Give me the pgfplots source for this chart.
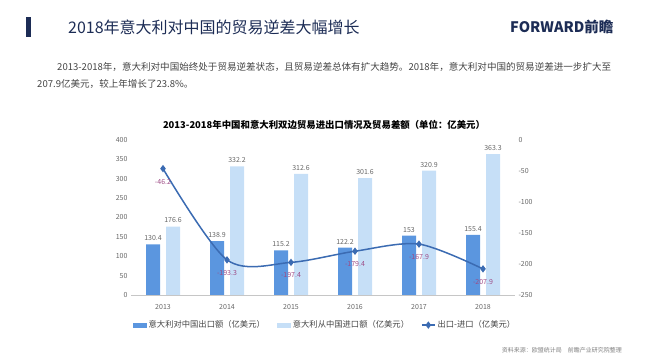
\documentclass[border=0pt]{standalone}
\usepackage{fontspec}
\setmainfont{Noto Sans CJK SC}
\usepackage{pgfplots}
\pgfplotsset{compat=1.18}
\definecolor{darkbar}{HTML}{5B96DF}
\definecolor{lightbar}{HTML}{C6DFF7}
\definecolor{linec}{HTML}{3B6BB2}
\definecolor{linelab}{HTML}{9E4C86}
\definecolor{navy}{HTML}{1C2C55}
\definecolor{txt}{HTML}{444444}
\definecolor{tickc}{HTML}{666666}
\pgfplotsset{
  barleg/.style={legend image code/.code={\fill[##1] (0pt,-2.5pt) rectangle (14pt,2.5pt);}},
  lineleg/.style={legend image code/.code={\draw[##1, mark repeat=2, mark phase=2] plot coordinates {(0pt,0pt) (6.5pt,0pt) (13pt,0pt)};}},
}
\begin{document}
\begin{tikzpicture}[x=1pt,y=1pt]
\useasboundingbox (0,0) rectangle (650,358);
\fill[navy] (26,321) rectangle (31,341);
\node[anchor=west, font=\fontsize{16}{16}\selectfont, text=navy, inner sep=0] at (68,331) {2018年意大利对中国的贸易逆差大幅增长};
\node[anchor=west, font=\fontsize{14.5}{14.5}\selectfont\bfseries, text=navy, inner sep=0] at (510,331) {FORWARD前瞻};
\node[anchor=west, font=\fontsize{9.55}{9.55}\selectfont, text=txt, inner sep=0] at (57,291) {2013-2018年，意大利对中国始终处于贸易逆差状态，且贸易逆差总体有扩大趋势。2018年，意大利对中国的贸易逆差进一步扩大至};
\node[anchor=west, font=\fontsize{9.55}{9.55}\selectfont, text=txt, inner sep=0] at (37,274) {207.9亿美元，较上年增长了23.8\%。};
\node[font=\fontsize{9.4}{9.4}\selectfont\bfseries, inner sep=0] at (324,233) {2013-2018年中国和意大利双边贸易进出口情况及贸易差额（单位：亿美元）};
\node[anchor=east, font=\fontsize{6}{6}\selectfont, text=gray, inner sep=0] at (622,8) {资料来源：欧盟统计局\quad 前瞻产业研究院整理};

\begin{axis}[
  at={(131pt,63pt)}, anchor=south west, scale only axis,
  width=384pt, height=155pt,
  xmin=-0.5, xmax=5.5, ymin=0, ymax=400,
  ybar=6pt, bar width=14pt,
  axis x line*=bottom, axis y line*=left,
  x axis line style={-, draw=gray!45}, y axis line style={draw=none},
  xtick={0,...,5}, xticklabels={2013,2014,2015,2016,2017,2018},
  ytick={0,50,...,400},
  tick style={draw=none},
  ticklabel style={font=\fontsize{7}{7}\selectfont, text=tickc},
  xticklabel style={yshift=-2pt},
  /pgf/number format/assume math mode=true,
  nodes near coords,
  nodes near coords style={font=\fontsize{7}{7}\selectfont, text=tickc},
  clip=false,
]
\addplot[fill=darkbar, draw=none] coordinates {(0,130.4) (1,138.9) (2,115.2) (3,122.2) (4,153) (5,155.4)};
\addplot[fill=lightbar, draw=none] coordinates {(0,176.6) (1,332.2) (2,312.6) (3,301.6) (4,320.9) (5,363.3)};
\end{axis}

\begin{axis}[
  at={(131pt,63pt)}, anchor=south west, scale only axis,
  width=384pt, height=155pt,
  xmin=-0.5, xmax=5.5, ymin=-250, ymax=0,
  hide x axis, axis y line*=right,
  y axis line style={draw=none},
  ytick={-250,-200,...,0},
  tick style={draw=none},
  ticklabel style={font=\fontsize{7}{7}\selectfont, text=tickc},
  /pgf/number format/assume math mode=true,
  clip=false,
  legend columns=3,
  legend style={draw=none, fill=none, at={(0.505,-0.194)}, anchor=center,
    font=\fontsize{8.3}{8.3}\selectfont, text=txt,
    /tikz/every even column/.append style={column sep=10pt}},
]
\addlegendimage{fill=darkbar, draw=none, barleg}
\addlegendentry{意大利对中国出口额（亿美元）}
\addlegendimage{fill=lightbar, draw=none, barleg}
\addlegendentry{意大利从中国进口额（亿美元）}
\addplot[linec, line width=1.5pt, smooth, mark=diamond*, mark size=2.5pt,
  mark options={solid}, lineleg,
  nodes near coords, nodes near coords align=center,
  nodes near coords style={font=\fontsize{7}{7}\selectfont, text=linelab, yshift=-13pt}]
  coordinates {(0,-46.2) (1,-193.3) (2,-197.4) (3,-179.4) (4,-167.9) (5,-207.9)};
\addlegendentry{出口-进口（亿美元）}
\end{axis}
\end{tikzpicture}
\end{document}
